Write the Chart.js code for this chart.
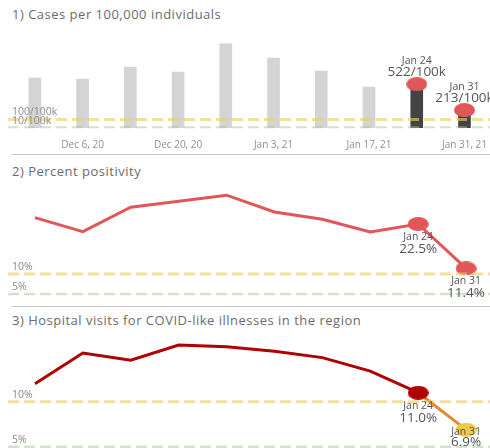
<!DOCTYPE html>
<html>
<head>
<meta charset="utf-8">
<script src="https://cdn.jsdelivr.net/npm/chart.js@4.4.1/dist/chart.umd.min.js"></script>
<style>
  body { margin: 0; background: #fff; width: 490px; height: 448px; overflow: hidden; position: relative; font-family: "Open Sans", sans-serif; }
  canvas { position: absolute; left: 0; }
  .title { position: absolute; left: 12px; font-size: 13px; letter-spacing: 0.5px; color: #6b6b6b; white-space: nowrap; }
  .sep { position: absolute; left: 12px; width: 478px; height: 0; border-top: 1.5px solid #c4c4c4; }
</style>
</head>
<body>
<div class="title" style="top:5px">1) Cases per 100,000 individuals</div>
<div class="sep" style="top:154px"></div>
<div class="title" style="top:162px">2) Percent positivity</div>
<div class="sep" style="top:306px"></div>
<div class="title" style="top:311px">3) Hospital visits for COVID-like illnesses in the region</div>

<canvas id="casesChart" width="490" height="150" style="top:0px"></canvas>
<canvas id="positivityChart" width="490" height="140" style="top:160px"></canvas>
<canvas id="hospitalChart" width="490" height="138" style="top:310px"></canvas>

<script>
// weeks (x categories)
var weeks = ['Nov 29, 20', 'Dec 6, 20', 'Dec 13, 20', 'Dec 20, 20', 'Dec 27, 20',
             'Jan 3, 21', 'Jan 10, 21', 'Jan 17, 21', 'Jan 24, 21', 'Jan 31, 21'];
var tickWeeks = ['Dec 6, 20', 'Dec 20, 20', 'Jan 3, 21', 'Jan 17, 21', 'Jan 31, 21'];

// 1) cases per 100k
var cases = [595, 583, 726, 666, 1000, 833, 678, 488, 522, 213];
// 2) percent positivity
var positivity = [24.1, 20.6, 26.7, 28.2, 29.7, 25.5, 23.7, 20.5, 22.5, 11.4];
// 3) hospital visits for covid-like illnesses
var hospital = [12.0, 15.4, 14.6, 16.3, 16.1, 15.6, 14.9, 13.4, 11.0, 6.9];

// thresholds
var casesThresholds = [100, 10];
var casesThresholdLabels = ['100/100k', '10/100k'];
var pctThresholds = [10, 5];
var pctThresholdLabels = ['10%', '5%'];

var highlight = [8, 9];

var YELLOW_LINE = 'rgba(240, 204, 98, 0.62)';
var GREEN_LINE = 'rgba(160, 204, 150, 0.5)';

function ellipseImage(color) {
    // points in the picture are a bit wider than tall
    var c = document.createElement('canvas');
    c.width = 21; c.height = 14;
    var g = c.getContext('2d');
    g.fillStyle = color;
    g.beginPath();
    g.ellipse(10.5, 7, 10.5, 7, 0, 0, Math.PI * 2);
    g.fill();
    return c;
}

function shortDate(w) {
    return w.split(',')[0];
}

// dashed threshold lines across the panel
var refLinesPlugin = {
    id: 'refLines',
    afterDatasetsDraw: function(chart, args, opts) {
        if (!opts.lines) return;
        var ctx = chart.ctx;
        var y = chart.scales.y;
        ctx.save();
        opts.lines.forEach(function(l) {
            var py = y.getPixelForValue(l.value);
            ctx.setLineDash([11, 5]);
            ctx.strokeStyle = l.color;
            ctx.lineWidth = l.width;
            ctx.beginPath();
            ctx.moveTo(chart.chartArea.left - 3, py);
            ctx.lineTo(chart.width, py);
            ctx.stroke();
            ctx.setLineDash([]);
            ctx.fillStyle = '#8a8a8a';
            ctx.font = '10.5px "Open Sans"';
            ctx.textBaseline = 'middle';
            ctx.textAlign = 'left';
            ctx.fillText(l.label, 12, py + l.labelDy);
        });
        ctx.restore();
    }
};

// date + value text next to the highlighted points
var pointLabelsPlugin = {
    id: 'pointLabels',
    afterDatasetsDraw: function(chart, args, opts) {
        if (!opts.items) return;
        var ctx = chart.ctx;
        var meta = chart.getDatasetMeta(opts.datasetIndex);
        ctx.save();
        ctx.textAlign = 'center';
        ctx.textBaseline = 'middle';
        ctx.fillStyle = '#555';
        opts.items.forEach(function(it) {
            var el = meta.data[it.index];
            ctx.font = '10.5px "Open Sans"';
            ctx.fillText(it.top, el.x, el.y + it.dy1);
            ctx.font = '13.5px "Open Sans"';
            ctx.fillText(it.bottom, el.x, el.y + it.dy2);
        });
        ctx.restore();
    }
};

Chart.register(refLinesPlugin, pointLabelsPlugin);

function onlyHighlighted(values) {
    return values.map(function(v, i) { return highlight.indexOf(i) >= 0 ? v : null; });
}

// ---------- 1) cases ----------
new Chart(document.getElementById('casesChart'), {
    type: 'bar',
    data: {
        labels: weeks,
        datasets: [{
            type: 'line',
            data: onlyHighlighted(cases),
            showLine: false,
            pointStyle: ellipseImage('#e15759'),
            pointRadius: 8,
            order: 0
        }, {
            data: cases,
            backgroundColor: cases.map(function(v, i) { return highlight.indexOf(i) >= 0 ? '#444444' : '#d4d4d4'; }),
            barThickness: 12,
            order: 1
        }]
    },
    options: {
        responsive: false,
        animation: false,
        layout: { autoPadding: false, padding: { top: 30, left: 11, right: 0, bottom: 0 } },
        scales: {
            x: {
                offset: true,
                grid: { display: false },
                border: { display: false },
                afterFit: function(s) { s.height = 22; },
                ticks: {
                    autoSkip: false,
                    maxRotation: 0,
                    padding: 3,
                    color: '#8f8f8f',
                    font: { family: 'Open Sans', size: 10 },
                    callback: function(val, i) {
                        var w = weeks[i];
                        return tickWeeks.indexOf(w) >= 0 ? w : '';
                    }
                }
            },
            y: { display: false, min: 0, max: 1166 }
        },
        plugins: {
            legend: { display: false },
            tooltip: { enabled: false },
            refLines: {
                lines: [
                    { value: casesThresholds[0], color: YELLOW_LINE, width: 3, label: casesThresholdLabels[0], labelDy: -8 },
                    { value: casesThresholds[1], color: GREEN_LINE, width: 2, label: casesThresholdLabels[1], labelDy: -6 }
                ]
            },
            pointLabels: {
                datasetIndex: 0,
                items: highlight.map(function(i) {
                    return { index: i, top: shortDate(weeks[i]), bottom: cases[i] + '/100k', dy1: -23, dy2: -12 };
                })
            }
        }
    }
});

// ---------- 2) percent positivity ----------
new Chart(document.getElementById('positivityChart'), {
    type: 'line',
    data: {
        labels: weeks,
        datasets: [{
            data: positivity,
            borderColor: '#e15759',
            borderWidth: 3,
            tension: 0,
            pointStyle: positivity.map(function(v, i) { return highlight.indexOf(i) >= 0 ? ellipseImage('#e15759') : 'circle'; }),
            pointRadius: positivity.map(function(v, i) { return highlight.indexOf(i) >= 0 ? 8 : 0; })
        }]
    },
    options: {
        responsive: false,
        animation: false,
        layout: { autoPadding: false, padding: { top: 20, left: 11, right: 0, bottom: 0 } },
        scales: {
            x: { display: false, offset: true },
            y: { display: false, min: 3.5, max: 33.5 }
        },
        plugins: {
            legend: { display: false },
            tooltip: { enabled: false },
            refLines: {
                lines: [
                    { value: pctThresholds[0], color: YELLOW_LINE, width: 3, label: pctThresholdLabels[0], labelDy: -7 },
                    { value: pctThresholds[1], color: GREEN_LINE, width: 2.5, label: pctThresholdLabels[1], labelDy: -7 }
                ]
            },
            pointLabels: {
                datasetIndex: 0,
                items: highlight.map(function(i) {
                    return { index: i, top: shortDate(weeks[i]), bottom: positivity[i].toFixed(1) + '%', dy1: 13, dy2: 25 };
                })
            }
        }
    }
});

// ---------- 3) hospital visits ----------
new Chart(document.getElementById('hospitalChart'), {
    type: 'line',
    data: {
        labels: weeks,
        datasets: [{
            data: hospital,
            borderColor: '#b00000',
            borderWidth: 3,
            tension: 0,
            segment: {
                borderColor: function(ctx) { return ctx.p0DataIndex === 8 ? '#e0892f' : '#b00000'; }
            },
            pointStyle: hospital.map(function(v, i) {
                if (i === 8) return ellipseImage('#b00000');
                if (i === 9) return ellipseImage('#efc94c');
                return 'circle';
            }),
            pointRadius: hospital.map(function(v, i) { return highlight.indexOf(i) >= 0 ? 8 : 0; })
        }]
    },
    options: {
        responsive: false,
        animation: false,
        layout: { autoPadding: false, padding: { top: 20, left: 11, right: 0, bottom: 0 } },
        scales: {
            x: { display: false, offset: true },
            y: { display: false, min: 4.856, max: 17.967 }
        },
        plugins: {
            legend: { display: false },
            tooltip: { enabled: false },
            refLines: {
                lines: [
                    { value: pctThresholds[0], color: YELLOW_LINE, width: 3, label: pctThresholdLabels[0], labelDy: -7 },
                    { value: pctThresholds[1], color: GREEN_LINE, width: 2.5, label: pctThresholdLabels[1], labelDy: -7 }
                ]
            },
            pointLabels: {
                datasetIndex: 0,
                items: [
                    { index: 8, top: shortDate(weeks[8]), bottom: hospital[8].toFixed(1) + '%', dy1: 13, dy2: 25 },
                    { index: 9, top: shortDate(weeks[9]), bottom: hospital[9].toFixed(1) + '%', dy1: 2, dy2: 13 }
                ]
            }
        }
    }
});
</script>
</body>
</html>
